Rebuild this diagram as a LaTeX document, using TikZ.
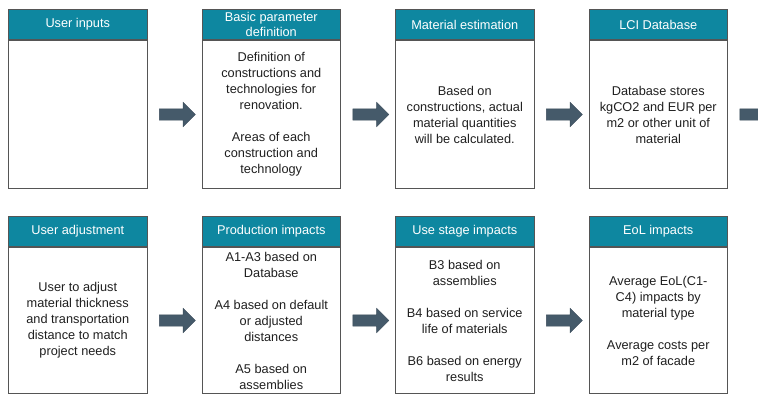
\documentclass[tikz,border=0pt]{standalone}
\usepackage{fontspec}
\setmainfont{Liberation Sans}
\usetikzlibrary{positioning,calc,shapes.arrows}
\definecolor{headteal}{RGB}{14,135,160}
\definecolor{flowslate}{RGB}{69,90,106}
\definecolor{edgegrey}{RGB}{85,85,85}

\tikzset{
  head/.style={draw=edgegrey, line width=1pt, fill=headteal, text=white,
    minimum width=138.5pt, minimum height=30pt, inner sep=0pt, align=center,
    font=\fontsize{12.75}{15.5}\selectfont},
  body/.style={draw=edgegrey, line width=1pt, minimum width=138.5pt,
    minimum height=148pt, inner sep=0pt, align=center, text=black!88,
    font=\fontsize{12.75}{16}\selectfont},
  lowbody/.style={body, minimum height=146pt},
  flow/.style={single arrow, fill=flowslate, draw=flowslate!85!black,
    line width=0.4pt, inner sep=0pt, text height=5.5pt, text depth=5.5pt,
    minimum height=36pt, single arrow head extend=6.5pt}
}

\begin{document}
\begin{tikzpicture}[x=1pt,y=1pt,node distance=54pt]
\useasboundingbox (0,0) rectangle (758,-394);
\clip (0,0) rectangle (758,-394);

% top row
\node[head, anchor=north west] (inH) at (8,-9) {User inputs};
\node[head, right=of inH] (parH) {Basic parameter\\definition};
\node[head, right=of parH] (matH) {Material estimation};
\node[head, right=of matH] (lciH) {LCI Database};
\node[body, below=0pt of inH] (inB) {};
\node[body, below=0pt of parH] (parB) {Definition of\\constructions and\\technologies for\\renovation.\\[16pt]Areas of each\\construction and\\technology};
\node[body, below=0pt of matH] (matB) {Based on\\constructions, actual\\material quantities\\will be calculated.};
\node[body, below=0pt of lciH] (lciB) {Database stores\\kgCO2 and EUR per\\m2 or other unit of\\material};

% bottom row
\node[head, anchor=north west] (adjH) at (8,-216) {User adjustment};
\node[head, right=of adjH] (prodH) {Production impacts};
\node[head, right=of prodH] (useH) {Use stage impacts};
\node[head, right=of useH] (eolH) {EoL impacts};
\node[lowbody, below=0pt of adjH] (adjB) {User to adjust\\material thickness\\and transportation\\distance to match\\project needs};
\node[lowbody, below=0pt of prodH] (prodB) {A1-A3 based on\\Database\\[16pt]A4 based on default\\or adjusted\\distances\\[16pt]A5 based on\\assemblies};
\node[lowbody, below=0pt of useH] (useB) {B3 based on\\assemblies\\[16pt]B4 based on service\\life of materials\\[16pt]B6 based on energy\\results};
\node[lowbody, below=0pt of eolH] (eolB) {Average EoL(C1-\\C4) impacts by\\material type\\[16pt]Average costs per\\m2 of facade};

% block arrows
\node[flow] (f1) at ($(inB.east)!0.5!(parB.west)$) {};
\node[flow] (f2) at ($(parB.east)!0.5!(matB.west)$) {};
\node[flow] (f3) at ($(matB.east)!0.5!(lciB.west)$) {};
\node[flow] (f4) at ($(lciB.east)+(27,0)$) {};
\node[flow] (f5) at ($(adjB.east)!0.5!(prodB.west)$) {};
\node[flow] (f6) at ($(prodB.east)!0.5!(useB.west)$) {};
\node[flow] (f7) at ($(useB.east)!0.5!(eolB.west)$) {};
\end{tikzpicture}
\end{document}
